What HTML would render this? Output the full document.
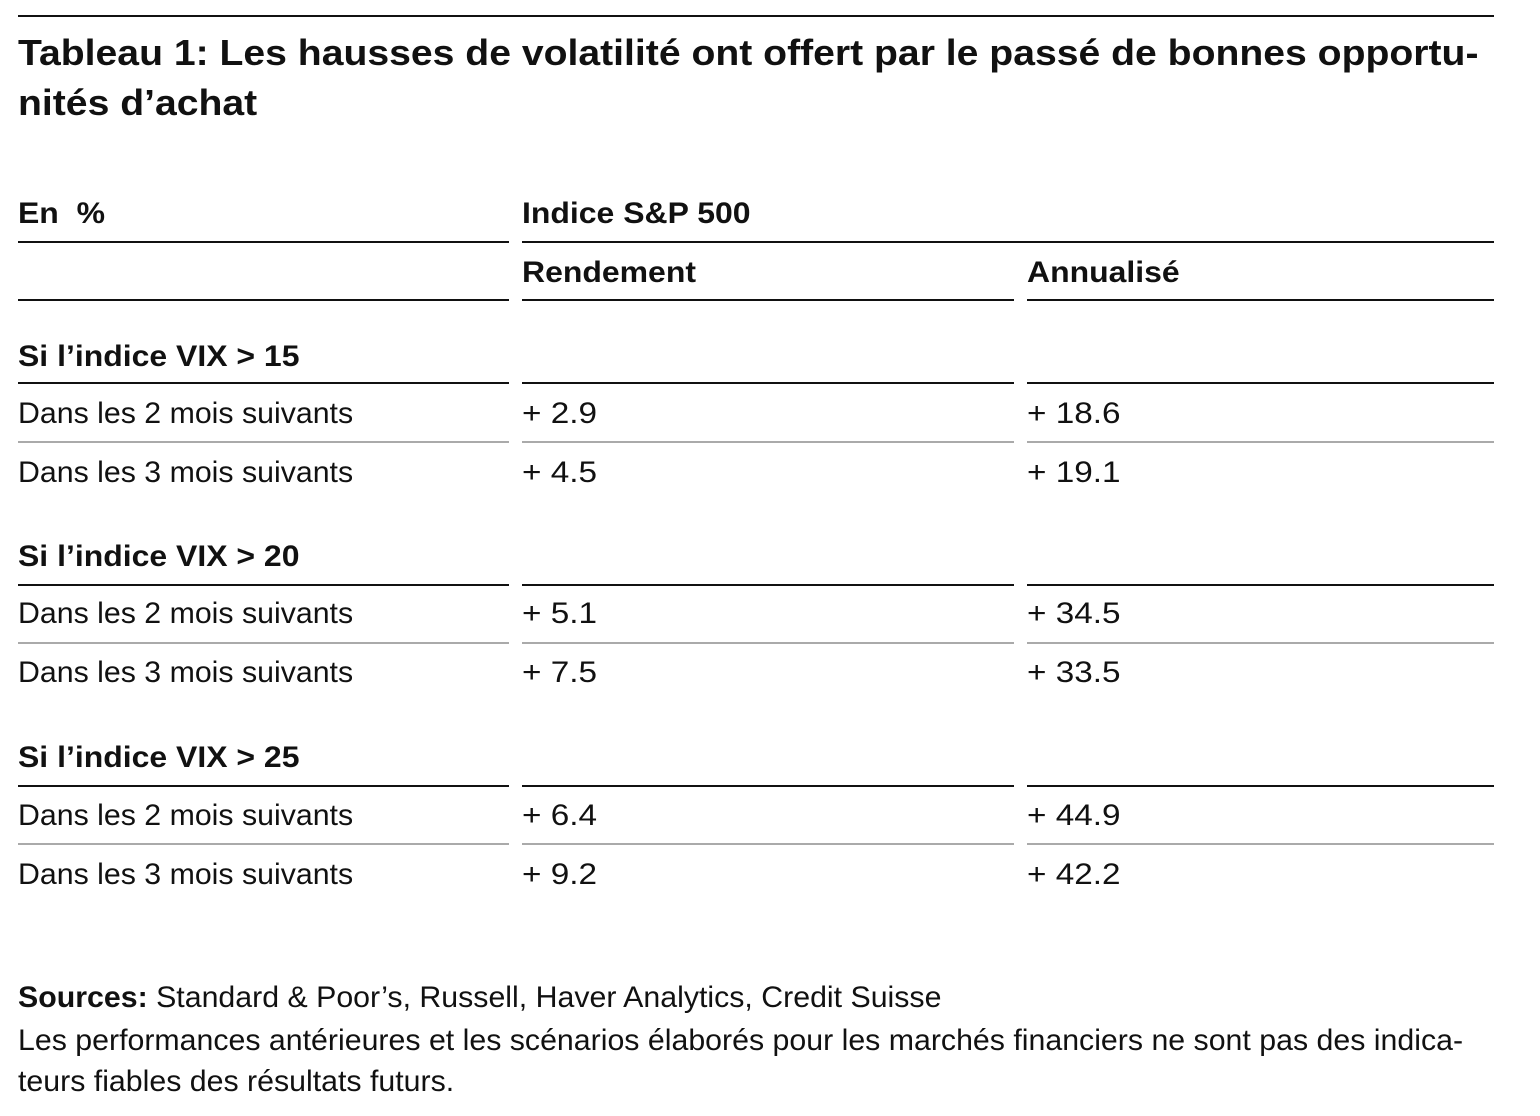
<!DOCTYPE html>
<html><head><meta charset="utf-8"><style>
body{margin:0;width:1540px;height:1116px;background:#fff;position:relative;font-family:"Liberation Sans",sans-serif;color:#111;overflow:hidden}
.t{position:absolute;line-height:40px;height:40px;white-space:nowrap;font-size:30px;transform-origin:0 50%;transform:scaleX(1.01)}
.b{font-weight:bold;transform:scaleX(1.065)}
.n{transform:scaleX(1.11)}
.l{position:absolute;height:2px;background:#111}
.g{background:#aaa}
</style></head><body>
<div class="l" style="left:18px;top:15px;width:1476px"></div>
<div class="t b" style="left:18px;top:33px;font-size:36px;transform:scaleX(1.087)">Tableau 1: Les hausses de volatilité ont offert par le passé de bonnes opportu-</div>
<div class="t b" style="left:18px;top:83px;font-size:36px;transform:scaleX(1.087)">nités d’achat</div>

<div class="t b" style="left:18px;top:194px">En&nbsp; %</div>
<div class="t b" style="left:522px;top:194px">Indice S&amp;P 500</div>
<div class="l" style="left:18px;top:241px;width:491px"></div>
<div class="l" style="left:522px;top:241px;width:972px"></div>
<div class="t b" style="left:522px;top:253px">Rendement</div>
<div class="t b" style="left:1027px;top:253px">Annualisé</div>
<div class="l" style="left:18px;top:299px;width:491px"></div>
<div class="l" style="left:522px;top:299px;width:492px"></div>
<div class="l" style="left:1027px;top:299px;width:467px"></div>

<div class="t b" style="left:18px;top:337px">Si l’indice VIX &gt; 15</div>
<div class="l" style="left:18px;top:382px;width:491px"></div>
<div class="l" style="left:522px;top:382px;width:492px"></div>
<div class="l" style="left:1027px;top:382px;width:467px"></div>
<div class="t" style="left:18px;top:394px">Dans les 2 mois suivants</div>
<div class="t n" style="left:522px;top:394px">+ 2.9</div>
<div class="t n" style="left:1027px;top:394px">+ 18.6</div>
<div class="l g" style="left:18px;top:441px;width:491px"></div>
<div class="l g" style="left:522px;top:441px;width:492px"></div>
<div class="l g" style="left:1027px;top:441px;width:467px"></div>
<div class="t" style="left:18px;top:453px">Dans les 3 mois suivants</div>
<div class="t n" style="left:522px;top:453px">+ 4.5</div>
<div class="t n" style="left:1027px;top:453px">+ 19.1</div>

<div class="t b" style="left:18px;top:537px">Si l’indice VIX &gt; 20</div>
<div class="l" style="left:18px;top:584px;width:491px"></div>
<div class="l" style="left:522px;top:584px;width:492px"></div>
<div class="l" style="left:1027px;top:584px;width:467px"></div>
<div class="t" style="left:18px;top:594px">Dans les 2 mois suivants</div>
<div class="t n" style="left:522px;top:594px">+ 5.1</div>
<div class="t n" style="left:1027px;top:594px">+ 34.5</div>
<div class="l g" style="left:18px;top:642px;width:491px"></div>
<div class="l g" style="left:522px;top:642px;width:492px"></div>
<div class="l g" style="left:1027px;top:642px;width:467px"></div>
<div class="t" style="left:18px;top:653px">Dans les 3 mois suivants</div>
<div class="t n" style="left:522px;top:653px">+ 7.5</div>
<div class="t n" style="left:1027px;top:653px">+ 33.5</div>

<div class="t b" style="left:18px;top:738px">Si l’indice VIX &gt; 25</div>
<div class="l" style="left:18px;top:785px;width:491px"></div>
<div class="l" style="left:522px;top:785px;width:492px"></div>
<div class="l" style="left:1027px;top:785px;width:467px"></div>
<div class="t" style="left:18px;top:796px">Dans les 2 mois suivants</div>
<div class="t n" style="left:522px;top:796px">+ 6.4</div>
<div class="t n" style="left:1027px;top:796px">+ 44.9</div>
<div class="l g" style="left:18px;top:843px;width:491px"></div>
<div class="l g" style="left:522px;top:843px;width:492px"></div>
<div class="l g" style="left:1027px;top:843px;width:467px"></div>
<div class="t" style="left:18px;top:855px">Dans les 3 mois suivants</div>
<div class="t n" style="left:522px;top:855px">+ 9.2</div>
<div class="t n" style="left:1027px;top:855px">+ 42.2</div>

<div class="t" style="left:18px;top:978px"><b>Sources:</b> Standard &amp; Poor’s, Russell, Haver Analytics, Credit Suisse</div>
<div class="t" style="left:18px;top:1021px;transform:scaleX(1.01)">Les performances antérieures et les scénarios élaborés pour les marchés financiers ne sont pas des indica-</div>
<div class="t" style="left:18px;top:1062px">teurs fiables des résultats futurs.</div>
</body></html>
